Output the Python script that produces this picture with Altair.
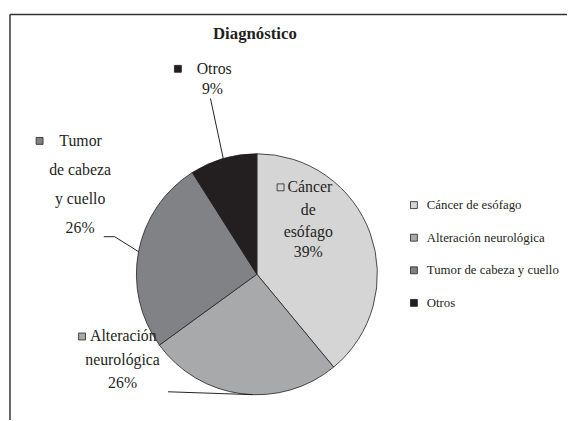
import math
import altair as alt
import pandas as pd

# ---- data ----
categories = ["Cáncer de esófago", "Alteración neurológica", "Tumor de cabeza y cuello", "Otros"]
percentages = [39, 26, 26, 9]
colors = ["#d5d5d6", "#a8a9ab", "#818285", "#231f20"]
title_text = "Diagnóstico"
label_words = {
    "Cáncer de esófago": ["Cáncer", "de", "esófago"],
    "Alteración neurológica": ["Alteración", "neurológica"],
    "Tumor de cabeza y cuello": ["Tumor", "de cabeza", "y cuello"],
    "Otros": ["Otros"],
}

# ---- layout (chart pixel coordinates) ----
CX, CY, R = 252, 267, 122
FONT = "Liberation Serif"
INK = "#231f20"
LEG_X, LEG_Y, LEG_STEP = 411, 197, 33
label_layout = {
    "Cáncer de esófago": dict(square=(276, 179), first=(283, 179),
                              rest=[(304, 202), (304, 224), (304, 245)], leader=None),
    "Alteración neurológica": dict(square=(75, 330), first=(83, 330),
                                   rest=[(116, 354), (116, 377)],
                                   leader=[(162, 386)], anchor_deg=182),
    "Tumor de cabeza y cuello": dict(square=(32, 132), first=(52, 132),
                                     rest=[(73, 162), (73, 191), (73, 220)],
                                     leader=[(97, 229), (108, 229)]),
    "Otros": dict(square=(172, 59), first=(191, 59), rest=[(207, 80)],
                  leader=[(205, 89)]),
}

df = pd.DataFrame({"cat": categories, "pct": percentages, "idx": range(len(categories))})

total = sum(percentages)
cum = 0
mid = {}
for c, p in zip(categories, percentages):
    mid[c] = (cum + p / 2) / total * 360
    cum += p

def cat_scale():
    return alt.Scale(domain=categories, range=colors)

pie = alt.Chart(df).mark_arc(radius=R, stroke=INK, strokeWidth=0.8).encode(
    theta=alt.Theta("pct:Q", stack=True),
    order=alt.Order("idx:Q"),
    color=alt.Color("cat:N", scale=cat_scale(), legend=None),
    x=alt.value(CX), y=alt.value(CY),
)

left_rows, center_rows, sq_rows, seg_rows, leg_rows = [], [], [], [], []
for i, (c, p) in enumerate(zip(categories, percentages)):
    lay = label_layout[c]
    words = label_words[c] + [f"{p}%"]
    sq_rows.append({"cat": c, "x": lay["square"][0], "y": lay["square"][1]})
    left_rows.append({"t": words[0], "x": lay["first"][0], "y": lay["first"][1]})
    for w, (x, y) in zip(words[1:], lay["rest"]):
        center_rows.append({"t": w, "x": x, "y": y})
    if lay["leader"]:
        pts = list(lay["leader"])
        ang = math.radians(lay.get("anchor_deg", mid[c]))
        pts.append((CX + R * math.sin(ang), CY - R * math.cos(ang)))
        for (x1, y1), (x2, y2) in zip(pts[:-1], pts[1:]):
            seg_rows.append({"x": x1, "y": y1, "x2": x2, "y2": y2})
    leg_rows.append({"cat": c, "x": LEG_X, "tx": LEG_X + 13, "y": LEG_Y + LEG_STEP * i})

pos = dict(x=alt.X("x:Q", scale=None), y=alt.Y("y:Q", scale=None))

left_text = alt.Chart(pd.DataFrame(left_rows)).mark_text(
    align="left", baseline="middle", font=FONT, fontSize=16, color=INK
).encode(text="t:N", **pos)
center_text = alt.Chart(pd.DataFrame(center_rows)).mark_text(
    align="center", baseline="middle", font=FONT, fontSize=16, color=INK
).encode(text="t:N", **pos)
squares = alt.Chart(pd.DataFrame(sq_rows)).mark_square(
    size=49, stroke=INK, strokeWidth=0.8, opacity=1
).encode(fill=alt.Fill("cat:N", scale=cat_scale(), legend=None), **pos)
leaders = alt.Chart(pd.DataFrame(seg_rows)).mark_rule(color=INK, strokeWidth=1).encode(
    x=alt.X("x:Q", scale=None), y=alt.Y("y:Q", scale=None),
    x2="x2:Q", y2="y2:Q")

legend_df = pd.DataFrame(leg_rows)
legend_sq = alt.Chart(legend_df).mark_square(
    size=49, stroke=INK, strokeWidth=0.8, opacity=1
).encode(fill=alt.Fill("cat:N", scale=cat_scale(), legend=None), **pos)
legend_txt = alt.Chart(legend_df).mark_text(
    align="left", baseline="middle", font=FONT, fontSize=13, color=INK
).encode(text="cat:N", x=alt.X("tx:Q", scale=None), y=alt.Y("y:Q", scale=None))

title = alt.Chart(pd.DataFrame({"t": [title_text]})).mark_text(
    align="center", baseline="middle", font=FONT, fontSize=17, fontWeight="bold", color=INK
).encode(text="t:N", x=alt.value(250), y=alt.value(24))

frame_left = alt.Chart(pd.DataFrame({"a": [0]})).mark_rule(color="#333333", strokeWidth=1.5).encode(
    x=alt.value(2), y=alt.value(4), y2=alt.value(430))
frame_top = alt.Chart(pd.DataFrame({"a": [0]})).mark_rule(color="#333333", strokeWidth=1.5).encode(
    x=alt.value(2), x2=alt.value(600), y=alt.value(4))

chart = alt.layer(frame_left, frame_top, pie, leaders, squares, legend_sq,
                  left_text, center_text, legend_txt, title).properties(
    width=566, height=412, padding=0, autosize=alt.AutoSizeParams(type="none"),
    view=alt.ViewBackground(stroke="transparent"),
)

chart.save("out.html", embed_options={"renderer": "svg", "actions": False})
